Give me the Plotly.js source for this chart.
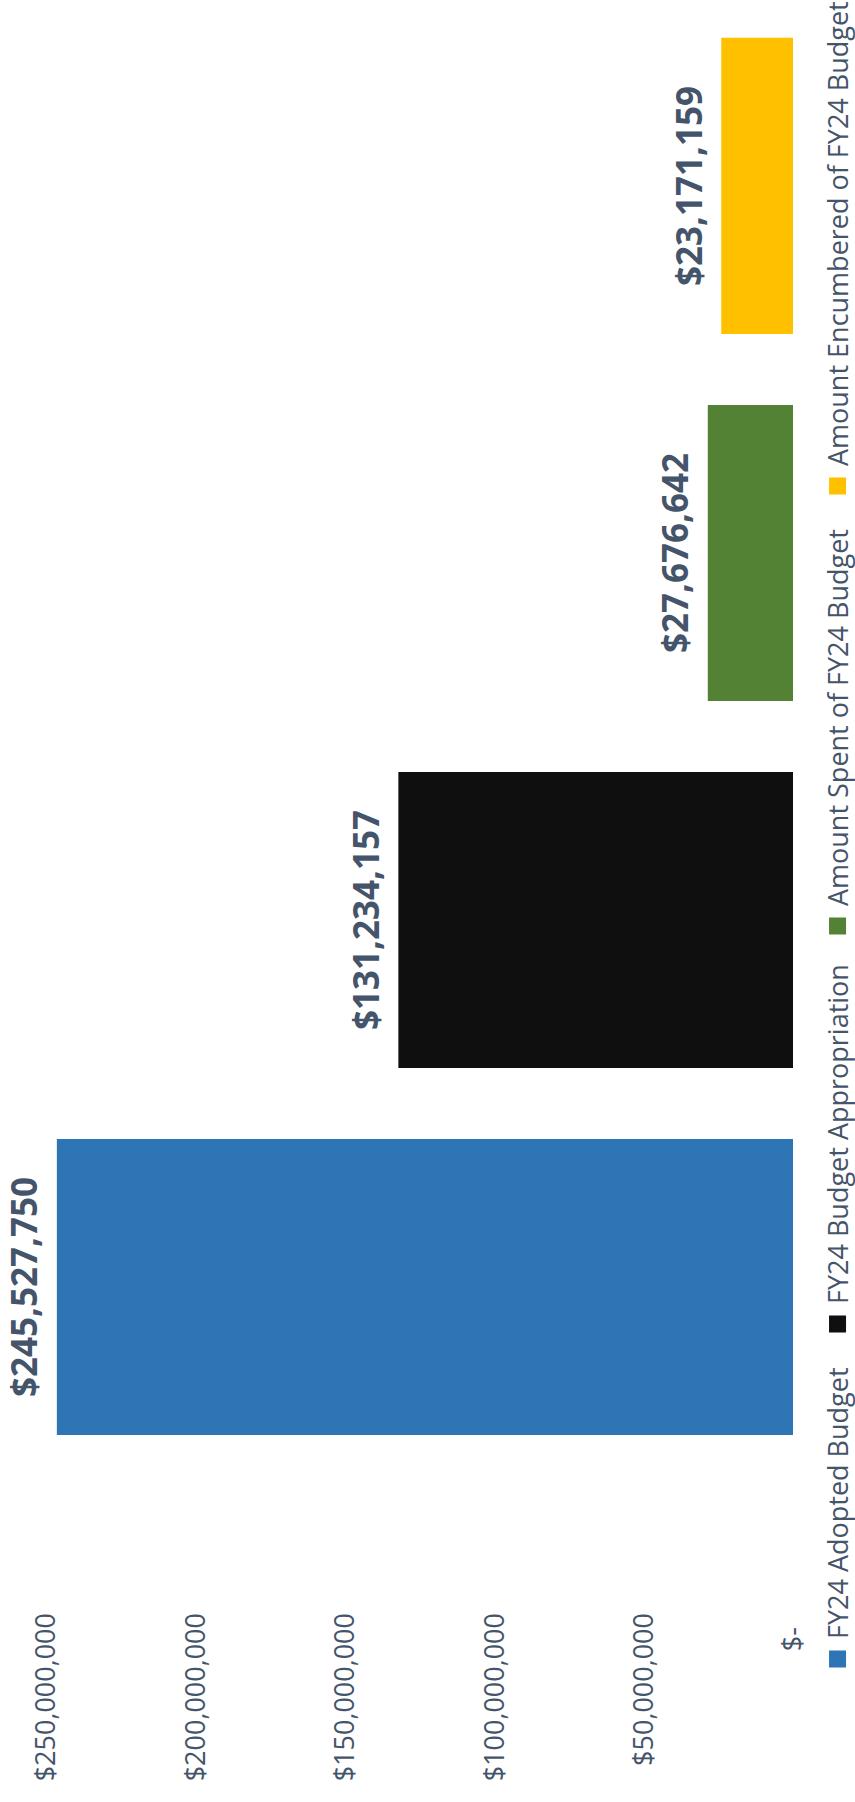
<!DOCTYPE html>
<html><head><meta charset="utf-8">
<script src="https://cdn.plot.ly/plotly-3.0.1.min.js"></script>
<style>
html,body{margin:0;padding:0;background:#fff;width:855px;height:1802px;overflow:hidden;}
#wrap{position:absolute;left:0;top:0;width:1802px;height:855px;transform-origin:0 0;transform:translate(0px,1802px) rotate(-90deg);}
</style></head><body>
<div id="wrap"></div>
<script>
// Data (original chart, before rotation)
const seriesNames = ['FY24 Adopted Budget', 'FY24 Budget Appropriation', 'Amount Spent of FY24 Budget', 'Amount Encumbered of FY24 Budget'];
const values = [245527750, 131234157, 27676642, 23171159];
const tickValues = [0, 50000000, 100000000, 150000000, 200000000, 250000000];
const tickLabels = ['$-\u00a0\u00a0', '$50,000,000', '$100,000,000', '$150,000,000', '$200,000,000', '$250,000,000'];
const barColors = ['#2E75B6', '#0F0F0F', '#548235', '#FFC000'];

const textColor = '#44546A';
const legendIds = seriesNames.map((_, i) => i === 0 ? 'legend' : 'legend' + (i + 1));
const legendLeft = [123, 458, 856, 1296]; // px from chart's left edge (pre-rotation)

const traces = seriesNames.map((name, i) => ({
  type: 'bar',
  name: name,
  legend: legendIds[i],
  x: [i],
  y: [values[i]],
  marker: {color: barColors[i], line: {width: 5, color: barColors[i]}},
  hoverinfo: 'skip'
}));

const annotations = values.map((v, i) => ({
  x: i, y: v, xref: 'x', yref: 'y',
  text: '$' + v.toLocaleString('en-US'),
  showarrow: false,
  yanchor: 'bottom', xanchor: 'center',
  yshift: 10,
  font: {family: 'Open Sans', size: 35, color: textColor, weight: 700}
}));

const layout = {
  width: 1802, height: 855,
  margin: {l: 190, r: 2, t: 45.5, b: 62},
  paper_bgcolor: '#fff', plot_bgcolor: '#fff',
  barmode: 'overlay',
  bargap: 0.207,
  showlegend: true,
  font: {family: 'Open Sans', color: textColor},
  annotations: annotations,
  xaxis: {
    type: 'linear',
    range: [-0.8856, 3.501],
    showticklabels: false, showgrid: false, zeroline: false, showline: false, ticks: ''
  },
  yaxis: {
    range: [0, 250000000],
    tickvals: tickValues, ticktext: tickLabels,
    tickfont: {family: 'Open Sans', size: 27, color: textColor},
    showgrid: false, zeroline: false, showline: false, ticks: ''
  }
};
legendIds.forEach((id, i) => {
  layout[id] = {
    orientation: 'h',
    xref: 'container', yref: 'container',
    x: legendLeft[i] / 1802, xanchor: 'left',
    y: (855 - 838) / 855, yanchor: 'middle',
    font: {family: 'Open Sans', size: 27, color: textColor},
    bgcolor: 'rgba(0,0,0,0)'
  };
});
Plotly.newPlot('wrap', traces, layout, {staticPlot: true, displayModeBar: false});
</script>
</body></html>
